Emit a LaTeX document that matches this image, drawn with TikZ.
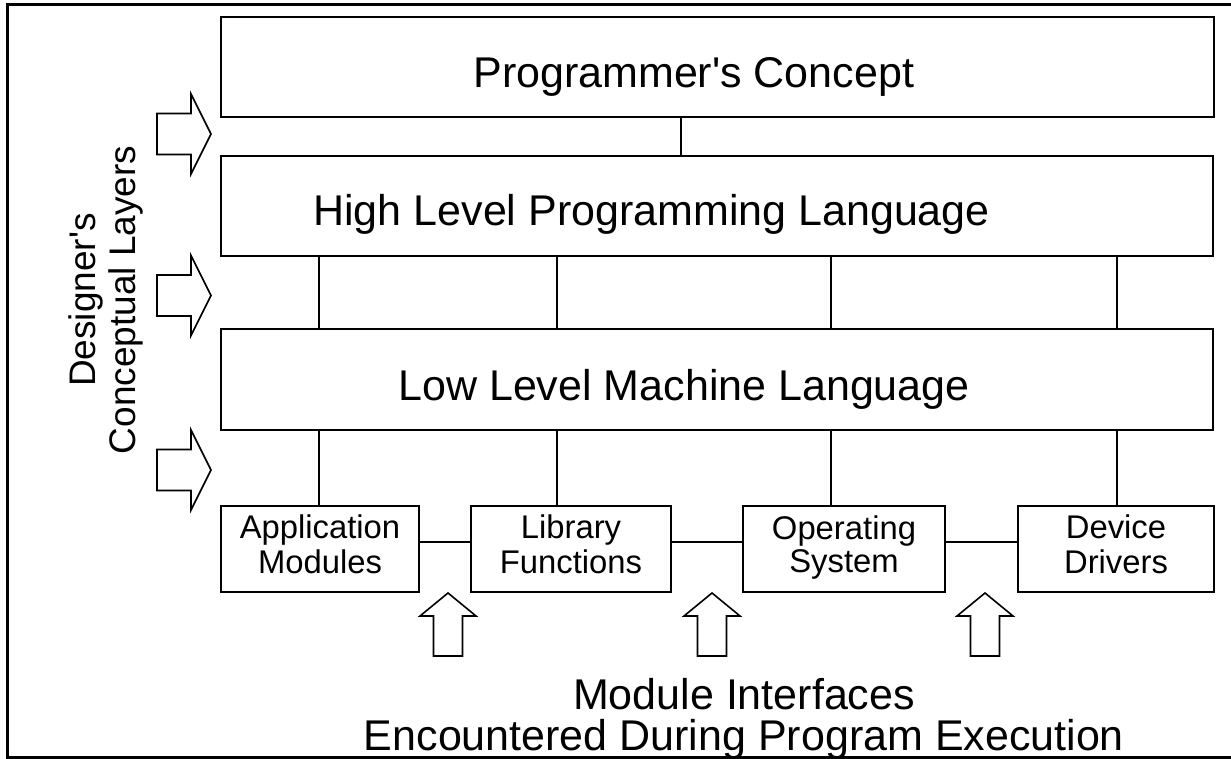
\documentclass[tikz,border=0pt]{standalone}
\usepackage{fontspec}
\setmainfont{Liberation Sans}[Ligatures=TeXOff]
\begin{document}
\begin{tikzpicture}[x=0.5pt,y=-0.5pt,
  layer/.style={draw,line width=1pt,inner sep=0pt},
  bigtext/.style={font=\fontsize{21.5}{25}\selectfont,inner sep=0pt},
  modbox/.style={draw,line width=1pt,inner sep=0pt,align=center,font=\fontsize{16.4}{16.5}\selectfont},
  link/.style={line width=0.8pt},
  fatarrow/.style={line width=0.8pt,line join=miter}]
\useasboundingbox (0,0) rectangle (1231,759);
\fill[white] (0,0) rectangle (1231,759);
% outer frame (right side lies outside the picture)
\draw[line width=1.5pt] (1240,5) -- (7,5) -- (7,757.5) -- (1240,757.5);
% layers
\node[layer,minimum width=496.5pt,minimum height=50pt] (pc) at (717.5,67) {};
\node[layer,minimum width=496pt,minimum height=50pt] (hl) at (717,206) {};
\node[layer,minimum width=496pt,minimum height=50.5pt] (ll) at (717,379.5) {};
\node[bigtext,anchor=base west] (pct) at (473,88) {Programmer's Concept};
\node[bigtext,anchor=base west] (hlt) at (313,226) {High Level Programming Language};
\node[bigtext,anchor=base west] (llt) at (398,400) {Low Level Machine Language};
% modules
\node[modbox,minimum width=99pt,minimum height=43pt] (am) at (320,549) {\strut Application\\\strut Modules};
\node[modbox,minimum width=100pt,minimum height=43pt] (lf) at (571,549) {\strut Library\\\strut Functions};
\node[modbox,minimum width=101pt,minimum height=43pt] (os) at (844,549) {\strut Operating\\\strut System};
\node[modbox,minimum width=98pt,minimum height=43pt] (dd) at (1116,549) {\strut Device\\\strut Drivers};
% connector positions
\coordinate (c0) at (681,0);
\coordinate (c1) at (319,0);
\coordinate (c2) at (557,0);
\coordinate (c3) at (831,0);
\coordinate (c4) at (1117,0);
\coordinate (hy) at (0,542);
\draw[link] (pc.south -| c0) -- (hl.north -| c0);
\foreach \c in {c1,c2,c3,c4}{
  \draw[link] (hl.south -| \c) -- (ll.north -| \c);
}
\draw[link] (ll.south -| c1) -- (am.north -| c1);
\draw[link] (ll.south -| c2) -- (lf.north -| c2);
\draw[link] (ll.south -| c3) -- (os.north -| c3);
\draw[link] (ll.south -| c4) -- (dd.north -| c4);
\draw[link] (am.east |- hy) -- (lf.west |- hy);
\draw[link] (lf.east |- hy) -- (os.west |- hy);
\draw[link] (os.east |- hy) -- (dd.west |- hy);
% left block arrows
\foreach \yy in {134,295.5,470}{
  \draw[fatarrow] (157,{\yy-20.5}) -- (191,{\yy-20.5}) -- (191,{\yy-40}) -- (211,\yy)
     -- (191,{\yy+40}) -- (191,{\yy+20.5}) -- (157,{\yy+20.5}) -- cycle;
}
% up block arrows
\foreach \xx in {448,712,985}{
  \draw[fatarrow] ({\xx-14.5},656) -- ({\xx-14.5},616) -- ({\xx-28},616) -- (\xx,593)
     -- ({\xx+28},616) -- ({\xx+14.5},616) -- ({\xx+14.5},656) -- cycle;
}
% side label
\node[rotate=90,align=center,inner sep=0pt,font=\fontsize{18.5}{20}\selectfont] (dcl) at (106,300) {Designer's\\Conceptual Layers};
% bottom label
\node[bigtext,anchor=base] (mi1) at (744,709) {Module Interfaces};
\node[bigtext,anchor=base] (mi2) at (744,750) {Encountered During Program Execution};
\end{tikzpicture}
\end{document}
